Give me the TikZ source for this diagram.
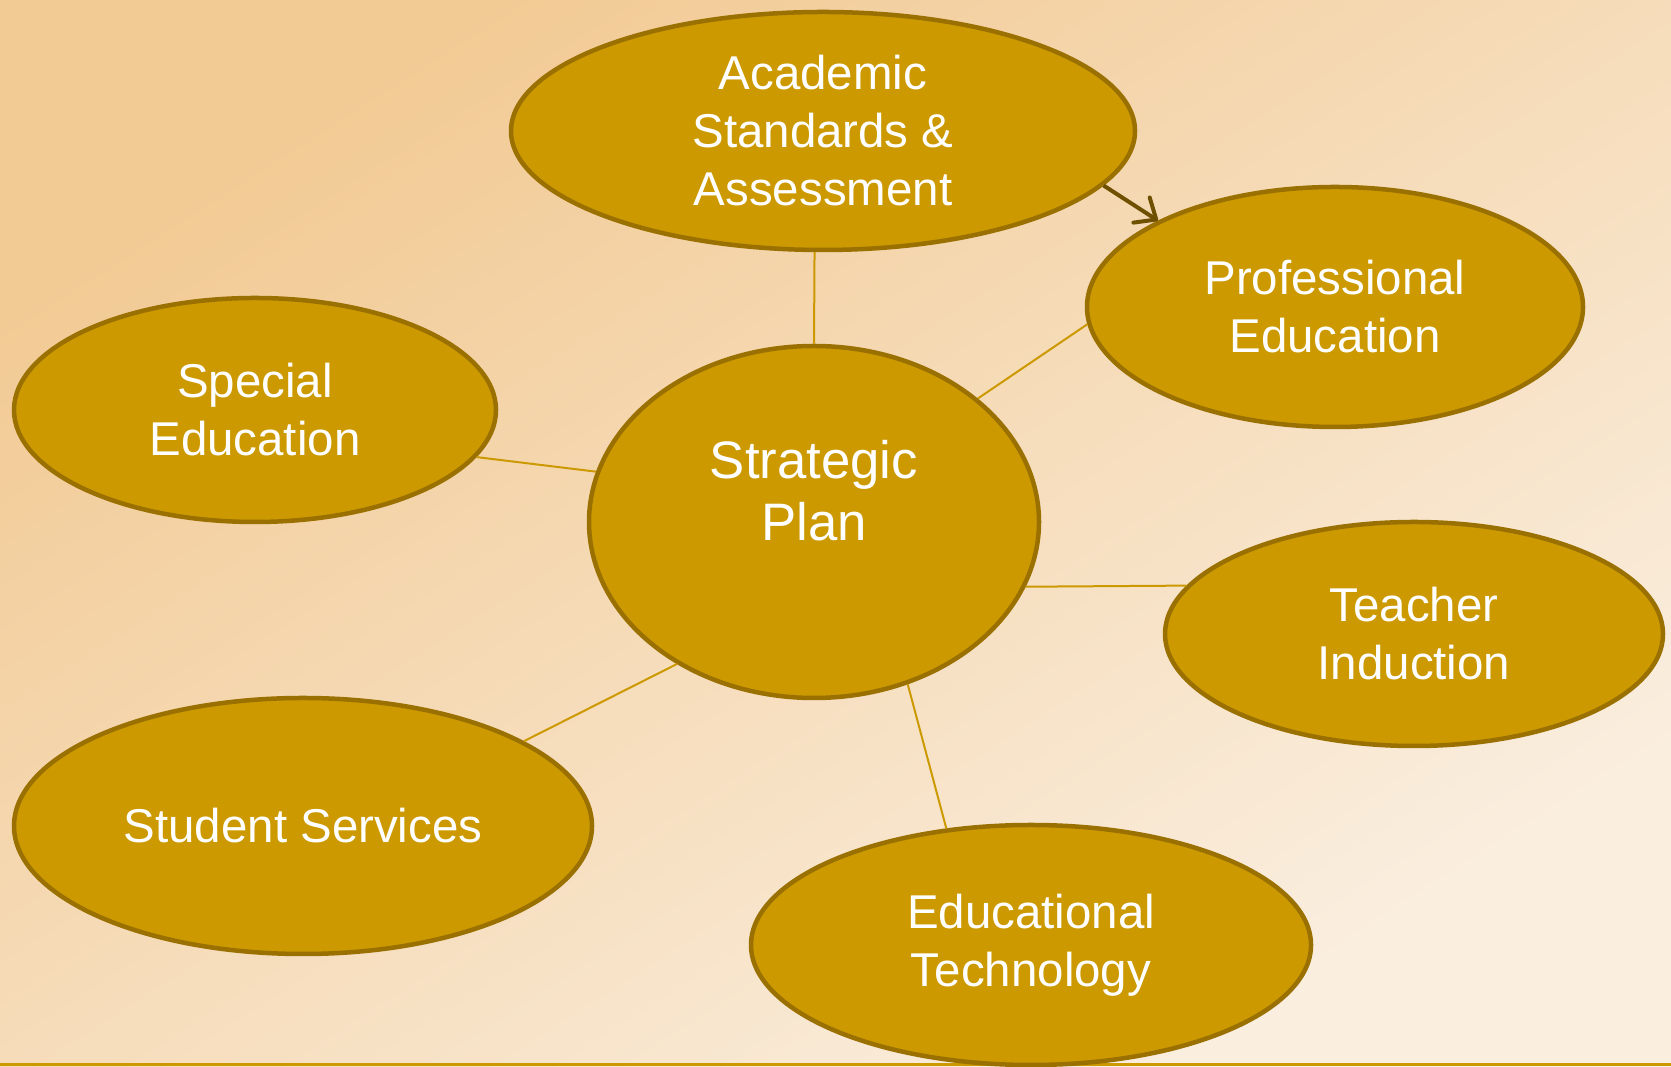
\documentclass[tikz,border=0pt]{standalone}
\usepackage{fontspec}
\setmainfont{Liberation Sans}
\usetikzlibrary{shapes.geometric,arrows.meta}
\definecolor{gold}{HTML}{CC9900}
\definecolor{rim}{HTML}{9A7000}
\definecolor{arrowbrown}{HTML}{6E5000}
\definecolor{bgtop}{HTML}{F2CA94}
\definecolor{bgmiddle}{HTML}{F5DCBA}
\definecolor{bgbottom}{HTML}{FAEEDF}

\begin{document}
\begin{tikzpicture}[x=0.2mm, y=0.2mm, main/.style={draw=rim, fill=gold, ellipse, line width=0.9mm, inner sep=0pt, text=white, align=center, font=\fontsize{27}{33}\selectfont}, link/.style={draw=gold, line width=0.4mm}, arr/.style={draw=arrowbrown, line width=0.8mm, -{Straight Barb[length=3.5mm, width=6mm, round]}}]
		\useasboundingbox (0,0) rectangle (1671,1067);
		\begin{scope}[transform canvas={xscale=1.5661}]
			\shade[shading=axis, top color=bgtop, middle color=bgmiddle, bottom color=bgbottom, shading angle=45] (0,0) rectangle (1067,1067);
		\end{scope}
		\draw[gold, line width=0.6mm] (0,2) -- (1671,2);

		\node[main, minimum width=90mm, minimum height=70.4mm, font=\fontsize{30}{35}\selectfont] (1) at (814,545) {\raisebox{8pt}[0pt][0pt]{\begin{tabular}{@{}c@{}}Strategic\\Plan\end{tabular}}};
		\node[main, minimum width=124.8mm, minimum height=47.6mm] (2) at (823,936) {Academic\\Standards \&\\Assessment};
		\node[main, minimum width=99.2mm, minimum height=48mm] (3) at (1335,760) {Professional\\Education};
		\node[main, minimum width=99.6mm, minimum height=44.8mm] (4) at (1414,433) {Teacher\\Induction};
		\node[main, minimum width=112mm, minimum height=48mm] (5) at (1031,122) {Educational\\Technology};
		\node[main, minimum width=115.6mm, minimum height=51.2mm] (6) at (303,241) {Student Services};
		\node[main, minimum width=96.4mm, minimum height=44.8mm] (7) at (255,657) {Special\\Education};

		\draw[link] (1.90) to (2.266);
		\draw[link] (1.37) to (3.184);
		\draw[link] (1.343) to (4.168);
		\draw[link] (1.300) to (5.126);
		\draw[link] (1.226) to (6.21);
		\draw[link] (1.167) to (7.348);
		\draw[arr] (2.349) to (3.154);
	\end{tikzpicture}
\end{document}
